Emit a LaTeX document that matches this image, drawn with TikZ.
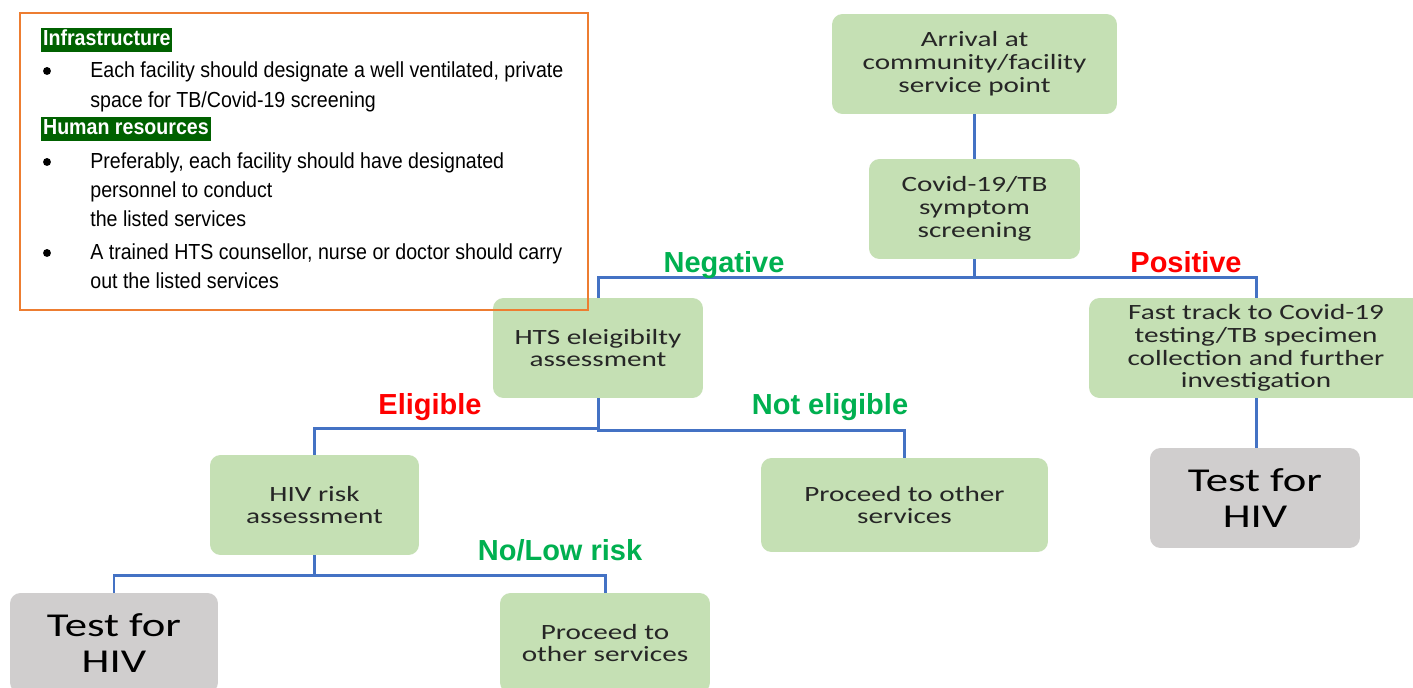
\documentclass[tikz,border=0pt]{standalone}
\usepackage{fontspec}
\setmainfont{Liberation Sans}
\newfontfamily\boxfont[FakeStretch=1.34]{Carlito}
\newfontfamily\narrowfont[FakeStretch=0.9]{Liberation Sans}
\usepackage{tikz}
\usetikzlibrary{positioning}
\usetikzlibrary{calc}
\definecolor{boxgreen}{RGB}{197,224,180}
\definecolor{boxgray}{RGB}{208,206,206}
\definecolor{linkblue}{RGB}{68,114,196}
\definecolor{noteorange}{RGB}{237,125,49}
\definecolor{headgreen}{RGB}{0,97,0}
\definecolor{labgreen}{RGB}{0,176,80}
\definecolor{labred}{RGB}{255,0,0}
\tikzset{stepbox/.style={rectangle,fill=boxgreen,rounded corners=6pt,align=center,inner sep=0pt,text=black!85,font=\boxfont\fontsize{12.4}{13}\selectfont}}
\tikzset{hivbox/.style={stepbox,fill=boxgray,text=black,font=\boxfont\fontsize{19}{20.5}\selectfont}}
\tikzset{link/.style={draw=linkblue,line width=1.7pt}}
\tikzset{yeslab/.style={anchor=base,text=labgreen,font=\bfseries\fontsize{16.5}{18}\selectfont}}
\tikzset{nolab/.style={yeslab,text=labred}}
\tikzset{notebox/.style={rectangle,draw=noteorange,line width=1.4pt,minimum width=11.36cm,minimum height=5.94cm,inner sep=0pt}}
\tikzset{notehead/.style={anchor=west,fill=headgreen,text=white,inner xsep=1pt,inner ysep=0.7pt,text height=9.2pt,text depth=2.8pt,font=\narrowfont\bfseries\fontsize{12.4}{14}\selectfont}}
\tikzset{noteline/.style={anchor=base west,inner sep=0pt,font=\narrowfont\fontsize{12.4}{14}\selectfont}}
\tikzset{notebullet/.style={circle,fill=black,inner sep=0pt,minimum size=4.5pt}}
\begin{document}
\begin{tikzpicture}[x=0.02cm,y=-0.02cm]
  \fill[white] (0,0) rectangle (1413,688);
  \clip (0,0) rectangle (1413,688);

  % Steps
  \node[stepbox,minimum width=5.7cm,minimum height=2cm] (arrival) at (974.5,64) {Arrival at\\community/facility\\service point};
  \node[stepbox,minimum width=4.22cm,minimum height=2cm] (covid) at (974.5,209) {Covid-19/TB\\symptom\\screening};
  \node[stepbox,minimum width=4.2cm,minimum height=2cm] (hts) at (598,348) {HTS eleigibilty\\assessment};
  \node[stepbox,minimum width=6.68cm,minimum height=2cm] (fast) at (1256,348) {Fast track to Covid-19\\testing/TB specimen\\collection and further\\investigation};
  \node[hivbox,minimum width=4.2cm,minimum height=2cm] (testr) at (1255,498) {Test for\\HIV};
  \node[stepbox,minimum width=4.18cm,minimum height=2cm] (hivrisk) at (314.5,505) {HIV risk\\assessment};
  \node[stepbox,minimum width=5.74cm,minimum height=1.88cm] (proceed) at (904.5,505) {Proceed to other\\services};
  \node[hivbox,minimum width=4.16cm,minimum height=2cm] (testl) at (114,643) {Test for\\HIV};
  \node[stepbox,minimum width=4.2cm,minimum height=2cm] (proceedb) at (605,643) {Proceed to\\other services};

  % Connectors
  \draw[link] (arrival.south) -- (covid.north);
  \draw[link] (covid.south) -- ++(0,18) -| (hts.north);
  \draw[link] (covid.south) -- ++(0,18) -| (fast.north);
  \draw[link] (fast.south) -- (fast.south |- testr.north);
  \draw[link] (hts.south) -- ++(0,30) -| (hivrisk.north);
  \draw[link] (hts.south) -- ++(0,32) -| (proceed.north);
  \draw[link] (hivrisk.south) -- ++(0,20) -| (testl.north);
  \draw[link] (hivrisk.south) -- ++(0,20) -| (proceedb.north);

  % Labels
  \node[yeslab] (negative) at (724,273) {Negative};
  \node[nolab] (positive) at (1186,273) {Positive};
  \node[nolab] (eligible) at (430,415) {Eligible};
  \node[yeslab] (noteligible) at (830,415) {Not eligible};
  \node[yeslab] (lowrisk) at (560,561) {No/Low risk};

  % Notes
  \node[notebox] (notes) at (304,161.5) {};
  \node[notehead] (infra) at (41,40) {Infrastructure};
  \node[notehead] (human) at (41,129) {Human resources};
  \foreach \y in {71,162,253}
    \node[notebullet] (bullet\y) at (47,\y) {};
  \foreach \y/\t in {78/{Each facility should designate a well ventilated, private},
                     108/{space for TB/Covid-19 screening},
                     169/{Preferably, each facility should have designated},
                     198/{personnel to conduct},
                     227/{the listed services},
                     260/{A trained HTS counsellor, nurse or doctor should carry},
                     289/{out the listed services}}
    \node[noteline] (note\y) at (90,\y) {\t};
\end{tikzpicture}
\end{document}
